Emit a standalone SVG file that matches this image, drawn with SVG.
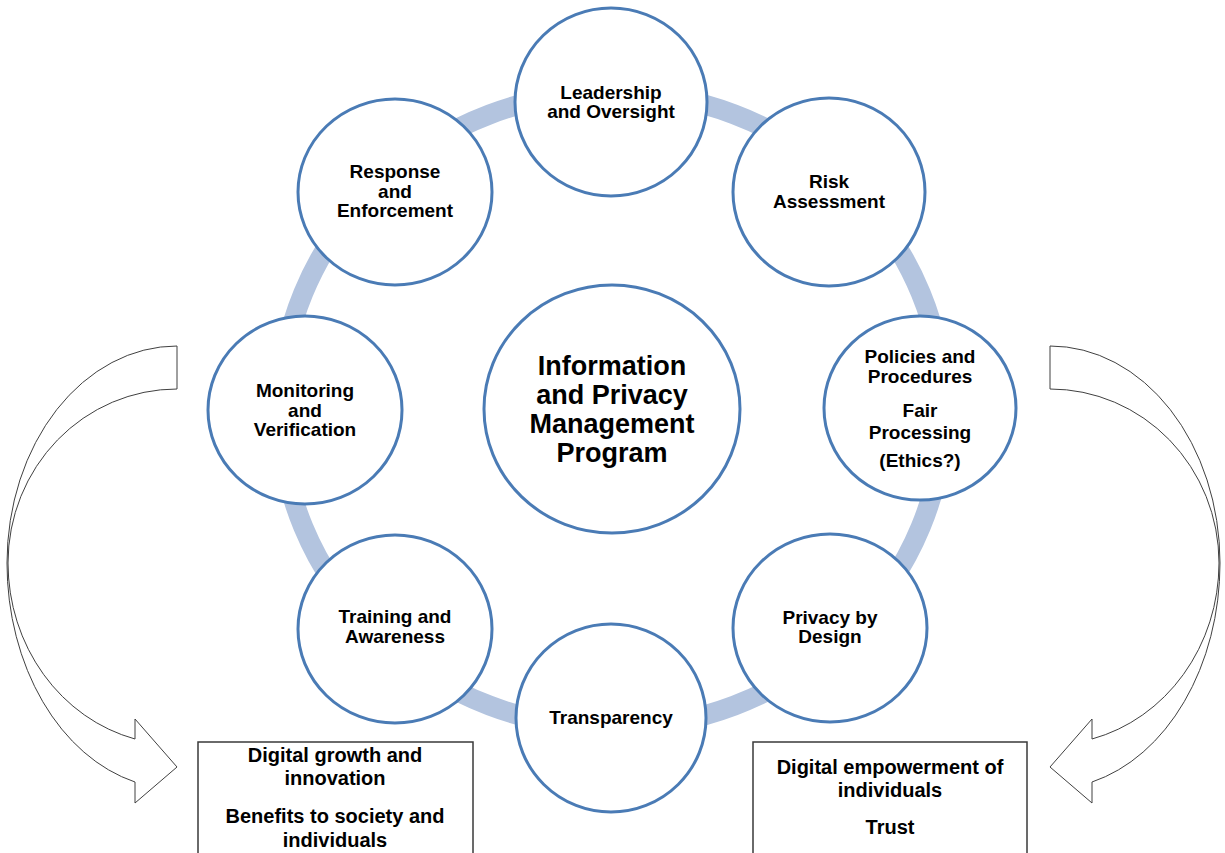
<svg xmlns="http://www.w3.org/2000/svg" width="1225" height="853" viewBox="0 0 1225 853">
  <style>
    .bubble { fill: #ffffff; stroke: #4a7bb5; stroke-width: 3; }
    .label { font-family: "Liberation Sans", Arial, sans-serif; font-weight: bold; font-size: 19px; fill: #000000; text-anchor: middle; }
    .title { font-size: 27px; }
    .boxtext { font-size: 20px; }
    .box { fill: #ffffff; stroke: #3a3a3a; stroke-width: 1.5; }
    .ring { fill: none; stroke: #b3c4df; stroke-width: 20; }
    .bend { fill: #ffffff; stroke: #404040; stroke-width: 1; stroke-linejoin: miter; }
  </style>

  <!-- band linking the eight program components, plus the two outcome arrows -->
  <g id="connectors">
    <ellipse class="ring" cx="612" cy="410" rx="332" ry="318"/>
    <path class="bend" d="M177,346 A170,217 0 0 0 7,563 A170,226 0 0 0 135,782 L135,803 L177,767 L135,719 L135,739 A169,182 0 0 1 8,563 A169,174 0 0 1 177,389 Z"/>
    <path class="bend" d="M1050,346 A170,217 0 0 1 1220,563 A170,226 0 0 1 1092,782 L1092,803 L1050,767 L1092,719 L1092,739 A169,182 0 0 0 1219,563 A169,174 0 0 0 1050,389 Z"/>
  </g>

  <g id="program">
    <ellipse class="bubble" cx="612" cy="409" rx="128" ry="124"/>
    <text class="label title" x="612" y="375">Information</text>
    <text class="label title" x="612" y="404">and Privacy</text>
    <text class="label title" x="612" y="433">Management</text>
    <text class="label title" x="612" y="462">Program</text>
  </g>

  <g id="leadership">
    <ellipse class="bubble" cx="611" cy="102" rx="96" ry="94"/>
    <text class="label" x="611" y="99">Leadership</text>
    <text class="label" x="611" y="118">and Oversight</text>
  </g>

  <g id="risk">
    <ellipse class="bubble" cx="829" cy="192" rx="96" ry="94"/>
    <text class="label" x="829" y="188">Risk</text>
    <text class="label" x="829" y="208">Assessment</text>
  </g>

  <g id="policies">
    <ellipse class="bubble" cx="920" cy="408" rx="96" ry="92"/>
    <text class="label" x="920" y="363">Policies and</text>
    <text class="label" x="920" y="383">Procedures</text>
    <text class="label" x="920" y="417">Fair</text>
    <text class="label" x="920" y="439">Processing</text>
    <text class="label" x="920" y="467">(Ethics?)</text>
  </g>

  <g id="privacy-by-design">
    <ellipse class="bubble" cx="830" cy="628" rx="97" ry="94"/>
    <text class="label" x="830" y="624">Privacy by</text>
    <text class="label" x="830" y="643">Design</text>
  </g>

  <g id="transparency">
    <ellipse class="bubble" cx="611" cy="718" rx="95" ry="94"/>
    <text class="label" x="611" y="724">Transparency</text>
  </g>

  <g id="training">
    <ellipse class="bubble" cx="395" cy="629" rx="97" ry="94"/>
    <text class="label" x="395" y="623">Training and</text>
    <text class="label" x="395" y="643">Awareness</text>
  </g>

  <g id="monitoring">
    <ellipse class="bubble" cx="305" cy="410" rx="97" ry="94"/>
    <text class="label" x="305" y="397">Monitoring</text>
    <text class="label" x="305" y="417">and</text>
    <text class="label" x="305" y="436">Verification</text>
  </g>

  <g id="response">
    <ellipse class="bubble" cx="395" cy="192" rx="97" ry="93"/>
    <text class="label" x="395" y="178">Response</text>
    <text class="label" x="395" y="198">and</text>
    <text class="label" x="395" y="217">Enforcement</text>
  </g>

  <g id="growth">
    <rect class="box" x="198" y="742" width="275" height="125"/>
    <text class="label boxtext" x="335" y="762">Digital growth and</text>
    <text class="label boxtext" x="335" y="785">innovation</text>
    <text class="label boxtext" x="335" y="823">Benefits to society and</text>
    <text class="label boxtext" x="335" y="847">individuals</text>
  </g>

  <g id="empowerment">
    <rect class="box" x="753" y="742" width="274" height="125"/>
    <text class="label boxtext" x="890" y="774">Digital empowerment of</text>
    <text class="label boxtext" x="890" y="797">individuals</text>
    <text class="label boxtext" x="890" y="834">Trust</text>
  </g>
</svg>
